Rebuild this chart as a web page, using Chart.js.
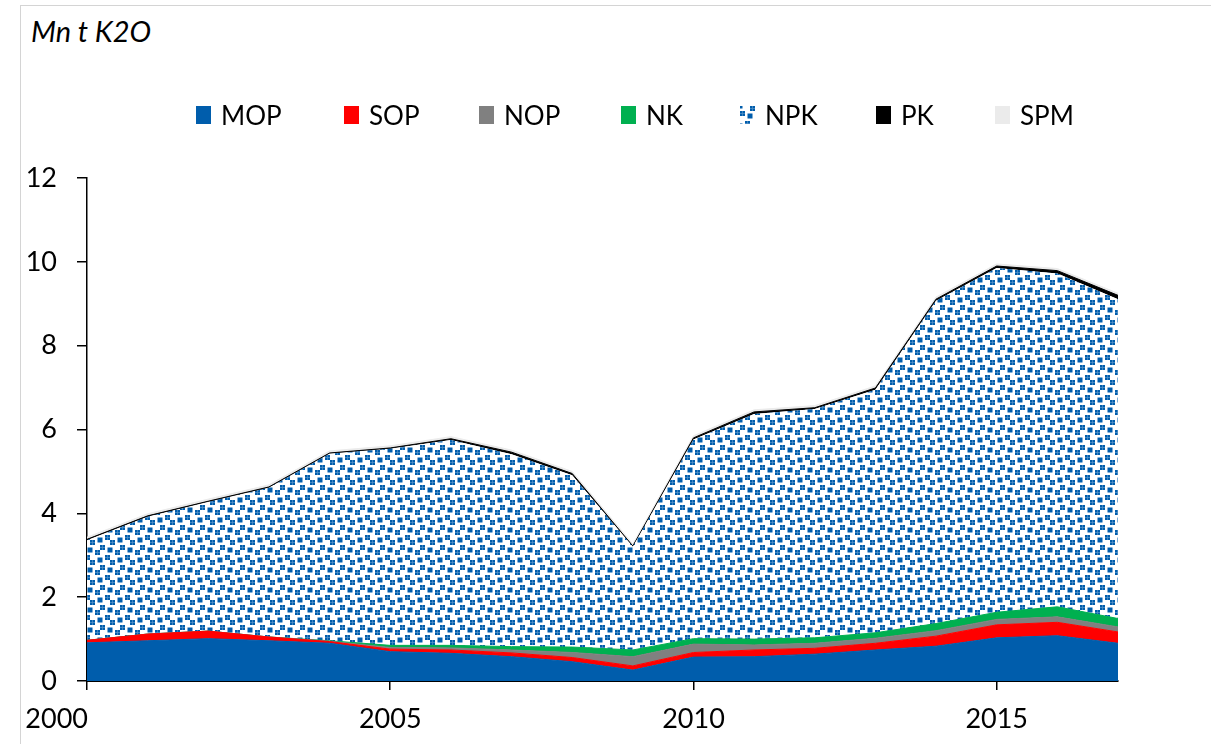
<!DOCTYPE html>
<html>
<head>
<meta charset="utf-8">
<script src="https://cdn.jsdelivr.net/npm/chart.js@4/dist/chart.umd.min.js"></script>
<style>
  html, body { margin: 0; padding: 0; background: #fff; }
  body { width: 1211px; height: 744px; position: relative; overflow: hidden; font-family: Lato, sans-serif; }
  #frame { position: absolute; left: 20px; top: 5px; width: 1200px; height: 760px; border: 1.5px solid #d4d4d4; box-sizing: border-box; }
  #unit { position: absolute; left: 31px; top: 13px; font-size: 29px; font-style: italic; color: #000; }
  .item { position: absolute; top: 99px; display: flex; align-items: center; font-size: 26px; color: #000; white-space: nowrap; }
  .item canvas, .item span.box { width: 15px; height: 18px; margin-right: 10px; display: block; }
  #chart { position: absolute; left: 0; top: 0; }
</style>
</head>
<body>
<div id="frame"></div>
<div id="unit">Mn t K2O</div>
<canvas id="chart" width="1211" height="744"></canvas>
<script>
const years = [2000, 2001, 2002, 2003, 2004, 2005, 2006, 2007, 2008, 2009, 2010, 2011, 2012, 2013, 2014, 2015, 2016, 2017];
const seriesNames = ["MOP", "SOP", "NOP", "NK", "NPK", "PK", "SPM"];
const mop = [0.91, 0.96, 1.01, 0.96, 0.90, 0.70, 0.66, 0.58, 0.46, 0.26, 0.57, 0.58, 0.64, 0.74, 0.83, 1.03, 1.08, 0.90];
const sop = [0.06, 0.16, 0.18, 0.09, 0.04, 0.06, 0.08, 0.09, 0.10, 0.10, 0.11, 0.16, 0.14, 0.16, 0.24, 0.31, 0.32, 0.27];
const nop = [0, 0, 0, 0, 0.01, 0.04, 0.05, 0.07, 0.12, 0.22, 0.20, 0.12, 0.12, 0.12, 0.13, 0.13, 0.13, 0.12];
const nk = [0, 0, 0, 0, 0.01, 0.05, 0.06, 0.08, 0.13, 0.16, 0.13, 0.14, 0.13, 0.13, 0.17, 0.17, 0.24, 0.20];
const npk = [2.39, 2.80, 3.08, 3.56, 4.46, 4.69, 4.90, 4.59, 4.10, 2.46, 4.75, 5.37, 5.46, 5.80, 7.70, 8.21, 7.95, 7.62];
const pk = [0.02, 0.02, 0.02, 0.02, 0.02, 0.02, 0.03, 0.05, 0.04, 0.02, 0.04, 0.05, 0.03, 0.04, 0.04, 0.05, 0.07, 0.09];
const spm = [0.05, 0.05, 0.05, 0.05, 0.05, 0.05, 0.05, 0.05, 0.05, 0.05, 0.05, 0.05, 0.05, 0.05, 0.05, 0.05, 0.05, 0.05];
const yTicks = [0, 2, 4, 6, 8, 10, 12];
const xTicks = [2000, 2005, 2010, 2015];

const BLUE = "#005dac";
const legendLeft = [196, 344, 479, 621, 740, 876, 995];

// NPK fill: 8x8 confetti bitmap, each bit drawn 2.5 px wide
const confetti = [0x8d, 0x0c, 0xc0, 0xd8, 0x1b, 0x03, 0x30, 0xb1];
function makePattern() {
  const k = 2.5, size = 20;
  const tile = document.createElement("canvas");
  tile.width = size;
  tile.height = size;
  const ctx = tile.getContext("2d");
  ctx.fillStyle = "#fff";
  ctx.fillRect(0, 0, size, size);
  ctx.fillStyle = BLUE;
  confetti.forEach((row, r) => {
    for (let c = 0; c < 8; c++) {
      if (row & (0x80 >> c)) ctx.fillRect(c * k, r * k, k, k);
    }
  });
  return tile;
}
const patternTile = makePattern();
const npkFill = document.getElementById("chart").getContext("2d").createPattern(patternTile, "repeat");

const colors = [BLUE, "#ff0000", "#808080", "#00b050", npkFill, "#000000", "#ebebeb"];
const values = [mop, sop, nop, nk, npk, pk, spm];

seriesNames.forEach((name, i) => {
  const item = document.createElement("div");
  item.className = "item";
  item.style.left = legendLeft[i] + "px";
  let box;
  if (name === "NPK") {
    box = document.createElement("canvas");
    box.width = 15;
    box.height = 18;
    const c = box.getContext("2d");
    c.fillStyle = c.createPattern(patternTile, "repeat");
    c.fillRect(0, 0, 15, 18);
  } else {
    box = document.createElement("span");
    box.className = "box";
    box.style.background = colors[i];
  }
  item.appendChild(box);
  item.appendChild(document.createTextNode(name));
  document.body.appendChild(item);
});

const datasets = seriesNames.map((name, i) => ({
  label: name,
  data: years.map((yr, j) => ({ x: yr, y: values[i][j] })),
  backgroundColor: colors[i],
  borderColor: name === "NPK" ? "rgba(0,0,0,0)" : colors[i],
  borderWidth: name === "NPK" ? 0 : 1,
  fill: i === 0 ? "origin" : "-1",
  pointRadius: 0,
  tension: 0,
}));

// the first year label sits to the left of its tick, as in the source chart
const firstLabelLeft = {
  id: "firstLabelLeft",
  beforeDraw(chart) {
    const items = chart.scales.x.getLabelItems(chart.chartArea);
    if (items.length) {
      items[0].options.textAlign = "right";
      items[0].options.translation[0] += 1;
    }
  },
};

new Chart(document.getElementById("chart"), {
  type: "line",
  data: { datasets },
  plugins: [firstLabelLeft],
  options: {
    responsive: false,
    animation: false,
    devicePixelRatio: 1,
    layout: { padding: { top: 178, right: 93, bottom: 0, left: 0 } },
    plugins: { legend: { display: false }, tooltip: { enabled: false } },
    scales: {
      x: {
        type: "linear",
        min: 2000,
        max: 2017,
        afterFit: (scale) => { scale.height = 63; },
        afterBuildTicks: (scale) => { scale.ticks = xTicks.map((v) => ({ value: v })); },
        ticks: { callback: (v) => String(v), padding: 13, color: "#000", font: { size: 27, family: "Lato" }, maxRotation: 0, autoSkip: false },
        grid: { drawOnChartArea: false, tickLength: 9, color: "#000", lineWidth: 1.5 },
        border: { color: "#000", width: 2 },
      },
      y: {
        stacked: true,
        min: 0,
        max: 12,
        afterFit: (scale) => { scale.width = 87; },
        afterBuildTicks: (scale) => { scale.ticks = yTicks.map((v) => ({ value: v })); },
        ticks: { padding: 20, color: "#000", font: { size: 27, family: "Lato" } },
        grid: { drawOnChartArea: false, tickLength: 10, color: "#000", lineWidth: 1.5 },
        border: { color: "#000", width: 1.5 },
      },
    },
  },
});
</script>
</body>
</html>
